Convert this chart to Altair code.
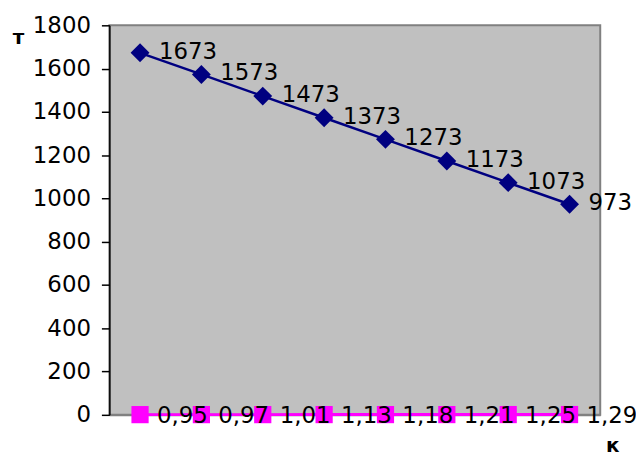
import altair as alt
import pandas as pd

# ---- data ----
idx = [1, 2, 3, 4, 5, 6, 7, 8]
t_values = [1673, 1573, 1473, 1373, 1273, 1173, 1073, 973]
k_values = [0.95, 0.97, 1.01, 1.13, 1.18, 1.21, 1.25, 1.29]
y_ticks = [0, 200, 400, 600, 800, 1000, 1200, 1400, 1600, 1800]

df = pd.DataFrame({"i": idx, "t": t_values, "k": k_values})

FONT = "DejaVu Sans"
NAVY = "#000080"
MAG = "#FF00FF"

x_enc = alt.X(
    "i:O",
    scale=alt.Scale(type="point", padding=0.5),
    axis=alt.Axis(
        labels=False, ticks=False, domainColor="#808080", domainWidth=2,
        title="к", titleX=506, titleY=31, titleAngle=0, titleAlign="center",
        titleBaseline="middle", titleFont=FONT, titleFontSize=20,
        titleFontWeight="bold", titleColor="black",
    ),
)
yscale = alt.Scale(domain=[0, 1800], nice=False, zero=True)
y_axis = alt.Axis(
    values=y_ticks, format="d", grid=False, domainColor="black", domainWidth=1.5,
    tickColor="black", tickSize=8, tickWidth=1.5,
    labelFont=FONT, labelFontSize=23, labelColor="black", labelPadding=11,
    labelFlush=False, labelOverlap=False,
    title="т", titleAngle=0, titleX=-92, titleY=12, titleAlign="center",
    titleBaseline="middle", titleFont=FONT, titleFontSize=20,
    titleFontWeight="bold", titleColor="black",
)

base = alt.Chart(df)

t_y = alt.Y("t:Q", scale=yscale, axis=y_axis)
k_y = alt.Y("k:Q", scale=yscale, axis=y_axis)

t_line = base.mark_line(color=NAVY, strokeWidth=2.5).encode(x=x_enc, y=t_y)
t_pts = base.mark_point(shape="diamond", size=361, filled=True, color=NAVY, opacity=1).encode(x=x_enc, y=t_y)
t_txt = base.mark_text(align="left", baseline="middle", dx=19, dy=-1, font=FONT, fontSize=23, color="black").encode(
    x=x_enc, y=t_y, text="t:Q"
)

k_line = base.mark_line(color=MAG, strokeWidth=3).encode(x=x_enc, y=k_y)
k_pts = base.mark_point(shape="square", size=300, filled=True, color=MAG, opacity=1).encode(x=x_enc, y=k_y)
k_txt = base.transform_calculate(
    lbl="replace(format(datum.k, '.2f'), '.', ',')"
).mark_text(align="left", baseline="middle", dx=17, dy=1, font=FONT, fontSize=23, color="black").encode(
    x=x_enc, y=k_y, text="lbl:N"
)

chart = alt.layer(t_line, t_pts, t_txt, k_line, k_pts, k_txt).properties(
    width=494,
    height=392,
    background="white",
    autosize=alt.AutoSizeParams(type="none"),
    padding={"left": 102, "top": 16, "right": 36, "bottom": 41},
).configure_view(
    fill="#C0C0C0", stroke="#808080", strokeWidth=2
)

chart.save("out.html", embed_options={"renderer": "svg", "actions": False})
